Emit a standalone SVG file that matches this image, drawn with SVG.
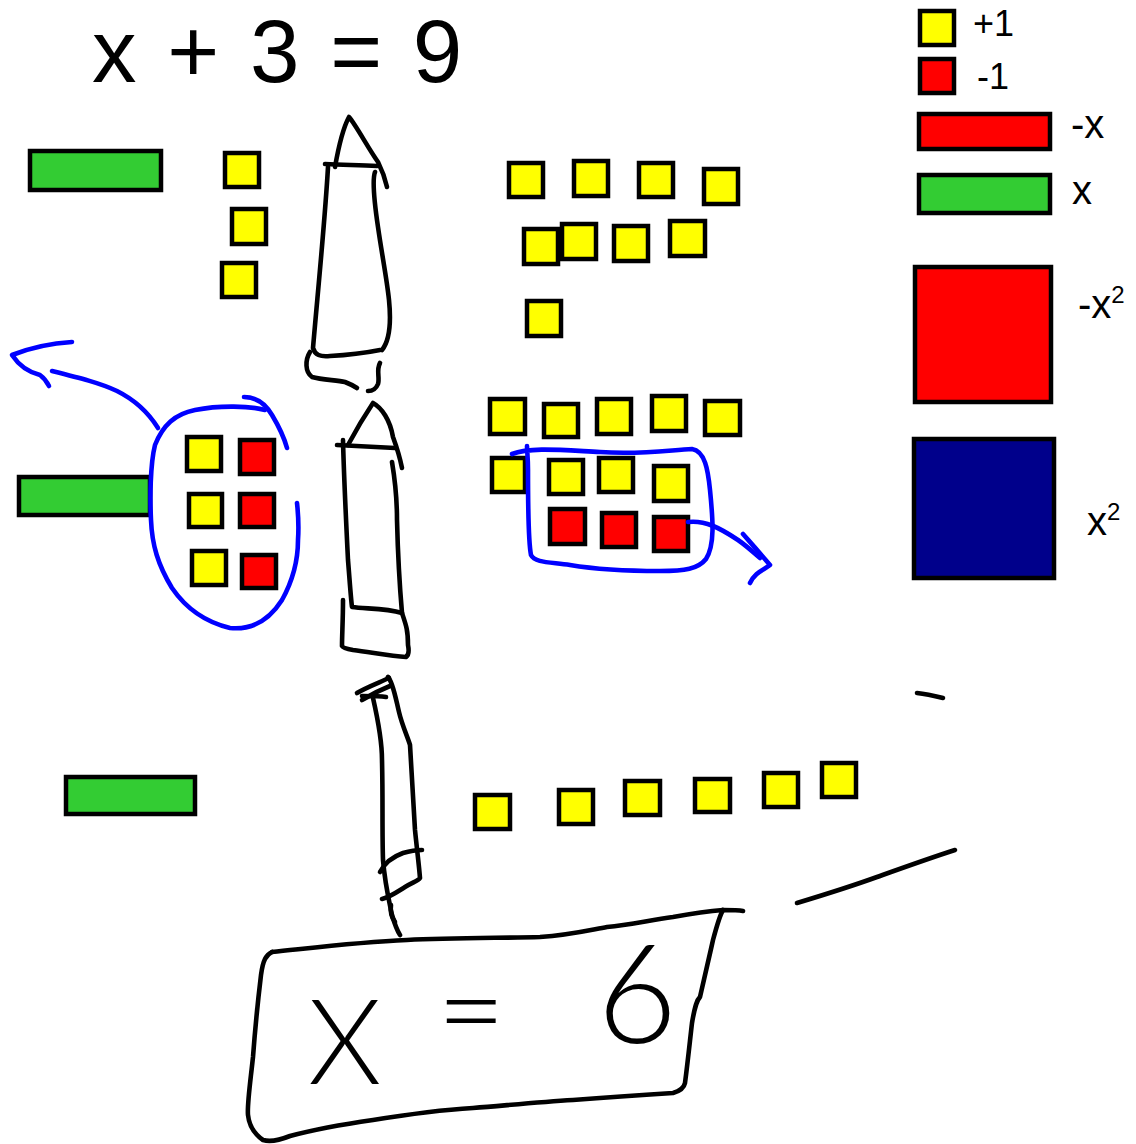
<svg xmlns="http://www.w3.org/2000/svg" width="1136" height="1144" viewBox="0 0 1136 1144">
<style>
.y{fill:#ffff00;stroke:#000;stroke-width:4.5}
.r{fill:#ff0000;stroke:#000;stroke-width:4.5}
.g{fill:#33cc33;stroke:#000;stroke-width:4.5}
.b{fill:#00008b;stroke:#000;stroke-width:4.5}
.pen{fill:none;stroke:#000;stroke-width:4.6;stroke-linecap:round;stroke-linejoin:round}
.blue{fill:none;stroke:#0000ff;stroke-width:4.6;stroke-linecap:round;stroke-linejoin:round}
.t{font-family:"Liberation Sans",Arial,sans-serif;fill:#000}
.hw{font-family:Lato,"Liberation Sans",sans-serif;font-weight:300;fill:#000}
</style>
<rect width="1136" height="1144" fill="#fff"/>
<g id="title"><text class="t" x="92" y="82" font-size="89" word-spacing="6">x + 3 = 9</text></g>
<g id="legend">
<rect class="y" x="920" y="11" width="34" height="34"/>
<text class="t" x="973" y="36" font-size="36">+1</text>
<rect class="r" x="920" y="59" width="34" height="34"/>
<text class="t" x="977" y="89" font-size="36">-1</text>
<rect class="r" x="919" y="114" width="131" height="35"/>
<text class="t" x="1071" y="138" font-size="40">-x</text>
<rect class="g" x="919" y="175" width="131" height="38"/>
<text class="t" x="1072" y="204" font-size="40">x</text>
<rect class="r" x="915" y="267" width="136" height="135"/>
<text class="t" x="1078" y="318" font-size="40">-x<tspan font-size="24" dy="-15">2</tspan></text>
<rect class="b" x="914" y="439" width="140" height="139"/>
<text class="t" x="1087" y="535" font-size="40">x<tspan font-size="24" dy="-15">2</tspan></text>
</g>
<g id="step1">
<rect class="g" x="30" y="151" width="131" height="39"/>
<rect class="y" x="225" y="153" width="34" height="34"/>
<rect class="y" x="232" y="209" width="34" height="35"/>
<rect class="y" x="222" y="263" width="34" height="34"/>
<rect class="y" x="509" y="163" width="34" height="34"/>
<rect class="y" x="574" y="161" width="34" height="35"/>
<rect class="y" x="639" y="163" width="34" height="34"/>
<rect class="y" x="704" y="169" width="34" height="35"/>
<rect class="y" x="524" y="229" width="34" height="35"/>
<rect class="y" x="562" y="224" width="34" height="35"/>
<rect class="y" x="614" y="226" width="34" height="35"/>
<rect class="y" x="670" y="221" width="35" height="35"/>
<rect class="y" x="527" y="301" width="34" height="35"/>
</g>
<g id="step2">
<rect class="g" x="19" y="477" width="131" height="38"/>
<rect class="y" x="187" y="437" width="34" height="34"/>
<rect class="r" x="240" y="440" width="34" height="34"/>
<rect class="y" x="189" y="494" width="33" height="33"/>
<rect class="r" x="240" y="494" width="34" height="33"/>
<rect class="y" x="192" y="551" width="34" height="34"/>
<rect class="r" x="242" y="555" width="34" height="33"/>
<rect class="y" x="490" y="399" width="35" height="35"/>
<rect class="y" x="544" y="404" width="34" height="33"/>
<rect class="y" x="597" y="399" width="34" height="35"/>
<rect class="y" x="652" y="396" width="34" height="35"/>
<rect class="y" x="705" y="401" width="35" height="34"/>
<rect class="y" x="492" y="458" width="33" height="34"/>
<rect class="y" x="549" y="460" width="34" height="34"/>
<rect class="y" x="599" y="458" width="34" height="34"/>
<rect class="y" x="654" y="466" width="34" height="35"/>
<rect class="r" x="550" y="509" width="35" height="35"/>
<rect class="r" x="602" y="513" width="34" height="34"/>
<rect class="r" x="654" y="517" width="34" height="34"/>
</g>
<g id="step3">
<rect class="g" x="66" y="777" width="129" height="37"/>
<rect class="y" x="475" y="795" width="35" height="34"/>
<rect class="y" x="559" y="790" width="34" height="34"/>
<rect class="y" x="625" y="781" width="35" height="34"/>
<rect class="y" x="695" y="779" width="35" height="33"/>
<rect class="y" x="764" y="773" width="34" height="34"/>
<rect class="y" x="822" y="763" width="34" height="34"/>
</g>
<g id="blue-marks">
<path class="blue" d="M265,410 C250,406 220,405 195,410 C175,414 163,425 155,445 C150,465 150,500 151,520 C152,545 158,565 172,588 C185,607 205,622 230,628 C250,630 268,622 282,600 C292,582 298,560 298,540 C299,525 298,512 297,503"/>
<path class="blue" d="M244,397 C255,397 265,403 272,415 C278,425 284,437 287,448"/>
<path class="blue" d="M158,428 C148,412 135,400 117,391 C100,383 80,378 52,371"/>
<path class="blue" d="M72,342 C55,343 35,346 12,355 C18,364 28,372 40,375 C44,378 47,382 49,386"/>
<path class="blue" d="M512,454 C530,447 560,450 600,452 C640,455 670,450 692,449 C705,451 708,470 710,490 C713,520 715,545 706,559 C698,569 685,571 660,571 C630,571 600,570 570,565 C550,562 535,563 531,555 C528,540 528,500 528,470 C528,458 527,450 527,446"/>
<path class="blue" d="M688,522 C705,520 720,528 738,540 C748,547 754,553 760,558"/>
<path class="blue" d="M743,534 C750,542 758,551 770,565 C764,570 755,572 750,583"/>
</g>
<g id="sketch1">
<path class="pen" d="M335,167 C338,150 343,128 349,117 C356,125 368,148 378,162 C382,170 385,178 387,187"/>
<path class="pen" d="M325,164 C345,165 360,165 377,166"/>
<path class="pen" d="M328,167 C325,220 318,290 313,348 C315,355 320,357 330,356 C350,355 365,353 380,350"/>
<path class="pen" d="M375,172 C372,180 374,200 378,227 C382,255 387,280 389,300 C391,320 390,340 382,350"/>
<path class="pen" d="M310,352 C305,360 305,372 312,377 C322,380 337,380 345,382 C350,384 354,386 357,388"/>
<path class="pen" d="M380,363 C376,370 380,378 378,384 C376,389 372,391 368,391"/>
</g>
<g id="sketch2">
<path class="pen" d="M348,445 C356,430 365,415 373,403 C382,408 390,420 393,437 C397,448 400,458 402,468"/>
<path class="pen" d="M337,445 C355,446 375,447 395,448"/>
<path class="pen" d="M343,440 C344,480 346,520 348,560 C350,585 351,600 352,607 C365,609 385,608 402,613"/>
<path class="pen" d="M392,462 C395,480 397,500 397,520 C398,560 400,590 402,613 C406,625 408,630 408,645 C409,650 409,655 406,657 C390,656 370,652 353,650 C347,649 343,648 342,646 C342,635 343,620 343,600"/>
</g>
<g id="sketch3">
<path class="pen" d="M357,693 C365,688 378,683 389,678"/>
<path class="pen" d="M362,700 C372,694 380,690 390,686"/>
<path class="pen" d="M362,696 C372,696 380,696 386,697"/>
<path class="pen" d="M373,698 C378,720 382,740 382,760 C383,800 382,830 383,860 C385,885 390,905 392,915 C395,925 398,932 400,935"/>
<path class="pen" d="M388,677 C393,682 396,700 399,712 C402,725 408,738 410,745 C412,780 414,810 415,830 C417,850 419,865 420,878 C418,881 413,882 405,887 C397,892 390,897 382,899"/>
<path class="pen" d="M380,872 C385,862 392,857 403,853 C410,851 415,850 422,850"/>
<path class="pen" d="M391,905 C390,912 392,918 395,922"/>
</g>
<g id="answer">
<path class="pen" d="M272,952 C320,947 360,942 407,940 C450,938 500,938 540,937 C570,935 590,930 607,927 C630,925 650,920 673,917 C695,913 710,911 723,910 C732,910 738,910 743,911"/>
<path class="pen" d="M272,952 C266,955 263,960 261,975 C258,1000 255,1030 253,1057 C250,1085 247,1105 248,1115 C249,1125 253,1133 263,1140 C270,1142 280,1140 290,1136 C320,1128 345,1124 373,1120 C410,1114 440,1110 473,1108 C510,1105 540,1102 573,1100 C610,1097 640,1095 673,1093 C680,1091 684,1088 685,1083 C688,1060 690,1040 692,1023 C695,1005 697,1000 700,997 C705,975 709,958 713,940 C717,925 720,915 723,910"/>
<text class="hw" font-size="118"><tspan x="308" y="1084">X</tspan> <tspan x="437" y="1052">=</tspan> <tspan x="597" y="1043" font-size="138">6</tspan></text>
</g>
<g id="strokes">
<path class="pen" d="M917,693 C927,694 935,696 943,698"/>
<path class="pen" d="M797,903 C830,893 855,885 877,877 C905,867 930,858 955,850"/>
</g>
</svg>
